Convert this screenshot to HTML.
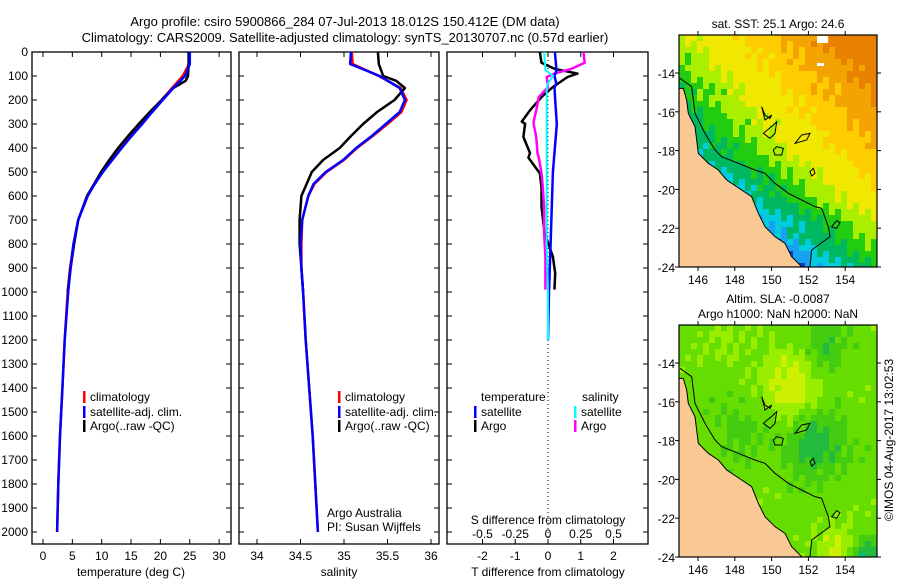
<!DOCTYPE html>
<html><head><meta charset="utf-8"><style>
html,body{margin:0;padding:0;background:#fff;}
svg{display:block;font-family:"Liberation Sans",sans-serif;}
text{font-size:12px;fill:#000;}
</style></head><body>
<svg id="c" width="900" height="580" xmlns="http://www.w3.org/2000/svg">
<text x="345" y="26" text-anchor="middle" style="font-size:13px">Argo profile: csiro 5900866_284 07-Jul-2013 18.012S 150.412E (DM data)</text>
<text x="345" y="42" text-anchor="middle" style="font-size:13px">Climatology: CARS2009. Satellite-adjusted climatology: synTS_20130707.nc (0.57d earlier)</text>
<g id="maps"></g>
<g id="panels"></g>
</svg>
<script>
// ---- data ----
const depths = [0,50,100,150,200,250,300,350,400,450,500,550,600,700,800,900,1000,1200,1400,1600,1800,2000];
const tempSat = [25.0,25.0,24.2,22.2,20.4,18.6,16.9,15.1,13.4,11.8,10.2,8.8,7.6,6.0,5.2,4.7,4.3,3.7,3.3,2.9,2.6,2.4];
const tempClim = [24.9,24.9,23.8,22.0,20.2,18.5,16.8,15.0,13.3,11.7,10.1,8.8,7.6,6.0,5.2,4.6,4.2,3.7,3.3,2.9,2.6,2.4];
const argoDepths = [0,50,100,120,150,200,250,300,350,400,450,500,550,600,700,800,900,1000];
const tempArgo = [24.8,24.8,24.7,24.3,22.2,20.2,18.2,16.3,14.5,12.8,11.3,9.9,8.7,7.5,6.0,5.3,4.7,4.2];
const salSat = [35.08,35.07,35.41,35.64,35.70,35.64,35.48,35.32,35.14,34.99,34.79,34.65,34.59,34.52,34.50,34.51,34.53,34.56,34.60,34.64,34.67,34.70];
const salClim = [35.09,35.10,35.40,35.65,35.72,35.66,35.50,35.33,35.15,35.00,34.80,34.66,34.59,34.52,34.51,34.51,34.53,34.56,34.60,34.64,34.67,34.70];
const salArgo = [35.39,35.40,35.45,35.60,35.70,35.58,35.38,35.22,35.08,34.95,34.76,34.63,34.57,34.51,34.49,34.49,34.51,34.53];
const diffDepths = [0,45,70,90,104,146,188,243,290,299,354,421,440,505,563,645,701,755,853,922,990];
const tDiffArgo = [-0.25,-0.2,0.2,0.9,0.6,0.15,-0.2,-0.55,-0.8,-0.7,-0.75,-0.55,-0.6,-0.25,-0.2,-0.2,-0.15,-0.1,0.15,0.22,0.2];
const sDiffArgo = [0.27,0.28,0.18,0.05,-0.01,0.0,-0.07,-0.09,-0.11,-0.11,-0.09,-0.08,-0.07,-0.05,-0.04,-0.03,-0.03,-0.03,-0.02,-0.02,-0.02];
const satDiffDepths = [0,76,100,130,150,200,300,500,800,1000,1200];
const tDiffSat = [0.21,0.26,0.2,0.25,0.2,0.22,0.27,0.15,0.08,0.03,0.0];
const sDiffSat = [-0.03,-0.02,0.04,0.0,-0.01,-0.01,-0.01,-0.01,-0.01,0.0,0.0];
const depthTicks = [0,100,200,300,400,500,600,700,800,900,1000,1100,1200,1300,1400,1500,1600,1700,1800,1900,2000];
const tempTicks = [0,5,10,15,20,25,30];
const salTicks = [34,34.5,35,35.5,36];
const tDiffTicks = [-2,-1,0,1,2];
const sDiffTicks = [-0.5,-0.25,0,0.25,0.5];
const lonTicks = [146,148,150,152,154];
const latTicks = [-14,-16,-18,-20,-22,-24];

const NS="http://www.w3.org/2000/svg";
const P=document.getElementById('panels');
function el(tag,attrs,parent,txt){const e=document.createElementNS(NS,tag);for(const k in attrs)e.setAttribute(k,attrs[k]);if(txt!==undefined)e.textContent=txt;(parent||P).appendChild(e);return e;}
const Y0=52,Y1=544;
const yD=d=>52+d*0.24;
const xT=v=>43+v*5.87;
const xS=v=>257+(v-34)*87;
const xTD=v=>548+v*32.75;
const xSD=v=>548+v*131;

function frame(x0,x1,name){
  const r=el('rect',{x:x0,y:Y0,width:x1-x0,height:Y1-Y0,fill:'none',stroke:'#000','stroke-width':1.3});
  
  
  depthTicks.forEach(d=>{const y=yD(d);
    el('line',{x1:x0,x2:x0+5,y1:y,y2:y,stroke:'#000'});
    el('line',{x1:x1-5,x2:x1,y1:y,y2:y,stroke:'#000'});});
}
function line(xs,ds,xf,color,w,name){
  const pts=ds.map((d,i)=>xf(xs[i]).toFixed(1)+','+yD(d).toFixed(1)).join(' ');
  const p=el('polyline',{points:pts,fill:'none',stroke:color,'stroke-width':w,'stroke-linejoin':'round'});
  
  
}
function xticks(ticks,f,x0,x1,name,labelY){
  ticks.forEach(v=>{const x=f(v);
    el('line',{x1:x,x2:x,y1:Y0,y2:Y0+5,stroke:'#000'});
    el('line',{x1:x,x2:x,y1:Y1-5,y2:Y1,stroke:'#000'});
    const t=el('text',{x:x,y:labelY,'text-anchor':'middle'},P,String(v));
    
    });
}
function legendRow(x,y,color,label,name){
  el('rect',{x:x,y:y-6,width:2.5,height:12,fill:color});
  const t=el('text',{x:x+7,y:y+4},P,label);
  
  
}

// panel 1
frame(32,231,'temperature-panel');
depthTicks.forEach(d=>{const t=el('text',{x:28,y:yD(d)+4,'text-anchor':'end'},P,String(d));
  
  });
xticks(tempTicks,xT,32,231,'temperature-tick-label',560);
line(tempClim,depths,xT,'#f00',2.5,'temperature-climatology-line');
line(tempArgo,argoDepths,xT,'#000',2.5,'temperature-argo-line');
line(tempSat,depths,xT,'#00f',2.5,'temperature-satellite-line');
legendRow(83,397,'#f00','climatology','legend-climatology');
legendRow(83,412,'#00f','satellite-adj. clim.','legend-satellite-adj');
legendRow(83,426,'#000','Argo(..raw -QC)','legend-argo');
el('text',{x:131,y:576,'text-anchor':'middle',},P,'temperature (deg C)');

// panel 2
frame(239,439,'salinity-panel');
xticks(salTicks,xS,239,439,'salinity-tick-label',560);
line(salClim,depths,xS,'#f00',2.5,'salinity-climatology-line');
line(salArgo,argoDepths,xS,'#000',2.5,'salinity-argo-line');
line(salSat,depths,xS,'#00f',2.5,'salinity-satellite-line');
legendRow(338,397,'#f00','climatology','legend-climatology-2');
legendRow(338,412,'#00f','satellite-adj. clim.','legend-satellite-adj-2');
legendRow(338,426,'#000','Argo(..raw -QC)','legend-argo-2');
el('text',{x:327,y:517,},P,'Argo Australia');
el('text',{x:327,y:531,},P,'PI: Susan Wijffels');
el('text',{x:339,y:576,'text-anchor':'middle',},P,'salinity');

// panel 3
frame(447,648,'difference-panel');
el('line',{x1:548,x2:548,y1:Y0,y2:Y1,stroke:'#000','stroke-dasharray':'1,3',});
tDiffTicks.forEach(v=>{const x=xTD(v);
  el('line',{x1:x,x2:x,y1:Y0,y2:Y0+5,stroke:'#000'});
  el('line',{x1:x,x2:x,y1:Y1-5,y2:Y1,stroke:'#000'});
  el('text',{x:x,y:560,'text-anchor':'middle',},P,String(v));});
sDiffTicks.forEach(v=>{
  el('text',{x:xSD(v),y:538,'text-anchor':'middle',},P,String(v));});
line(tDiffArgo,diffDepths,xTD,'#000',2.5,'t-diff-argo-line');
line(sDiffArgo,diffDepths,xSD,'#f0f',2.5,'s-diff-argo-line');
line(tDiffSat,satDiffDepths,xTD,'#00f',2.5,'t-diff-satellite-line');
line(sDiffSat,satDiffDepths,xSD,'#0ff',2,'s-diff-satellite-line');
el('text',{x:481,y:401,},P,'temperature');
el('text',{x:582,y:401,},P,'salinity');
legendRow(474,412,'#00f','satellite','legend-t-satellite');
legendRow(474,426,'#000','Argo','legend-t-argo');
legendRow(574,412,'#0ff','satellite','legend-s-satellite');
legendRow(574,426,'#f0f','Argo','legend-s-argo');
el('text',{x:548,y:524,'text-anchor':'middle',},P,'S difference from climatology');
el('text',{x:548,y:576,'text-anchor':'middle',},P,'T difference from climatology');

// ---- maps ----
const M=document.getElementById('maps');
const lonX=l=>698+(l-146)*18.4;
const latY=(la,top)=>top+38+(-14-la)*19.4;
const coast=[[73,265],[85,265],[95,300],[100,340],[120,380],[125,420],[130,460],[160,490],[190,510],[215,540],[260,570],[290,590],[310,640],[330,680],[360,710],[390,730],[410,770],[440,800]];
const shelf=[[75,235],[110,260],[120,340],[150,400],[180,450],[200,470],[250,490],[300,510],[330,520],[360,550],[400,580],[440,600],[480,620],[500,625],[520,680],[525,710],[470,750],[465,800]];
const reefs=[[[320,320],[330,360],[350,345],[345,355],[330,345]],[[325,400],[355,375],[365,365],[360,400],[345,415]],[[355,450],[365,440],[385,445],[380,465],[360,465]],[[420,430],[440,405],[465,400],[455,420]],[[465,515],[475,505],[480,520],[470,528]],[[530,680],[545,662],[555,668],[545,685]]];
function conv(p,off){return [655+p[0]/3,off+p[1]/3];}
function sstColor(u,v,n){
  const f=1.0*u-1.0*v+0.55-0.45*Math.max(0,v-0.5)+n;
  if(f<-0.05) return '#0a40d0';
  if(f<0.05) return '#1aa0f0';
  if(f<0.15) return '#00ccdd';
  if(f<0.3) return '#00b860';
  if(f<0.45) return '#22cc10';
  if(f<0.6) return '#aaee00';
  if(f<0.85) return '#f0e800';
  if(f<1.05) return '#ffcc00';
  if(f<1.25) return '#f4a400';
  return '#e88000';
}
function slaColor(u,v,n){
  const b=(cx,cy,r)=>Math.exp(-((u-cx)**2+(v-cy)**2)/(r*r));
  const f=0.55+0.35*b(0.55,0.25,0.15)+0.3*b(0.79,0.95,0.1)+0.12*b(0.22,0.05,0.12)-0.35*b(0.68,0.5,0.15)-0.45*b(0.93,0.98,0.08)-0.25*b(0.72,0.08,0.12)-0.15*b(0.3,0.45,0.15)+n;
  if(f<0.15) return '#00c080';
  if(f<0.3) return '#22bb40';
  if(f<0.45) return '#44cc10';
  if(f<0.62) return '#66dd00';
  if(f<0.78) return '#99ee00';
  return '#ccf000';
}
function drawMap(top,off,colorFn,name,titles){
  const g=document.createElementNS(NS,'g');
  
  
  M.appendChild(g);
  const x0=679,x1=877,y0=top,y1=top+232,cs=6;
  for(let y=y0;y<y1;y+=cs)for(let x=x0;x<x1;x+=cs){
    const u=(x-x0)/(x1-x0),v=(y-y0)/(y1-y0);
    const n=0.05*Math.sin(x*1.7+y*0.9)+0.04*Math.cos(x*0.6-y*1.3);
    el('rect',{x:x,y:y,width:Math.min(cs,x1-x),height:Math.min(cs,y1-y),fill:colorFn(u,v,n)},g);
  }
  const cpts=coast.map(p=>conv(p,off));
  const land=[[x0,cpts[0][1]],...cpts,[cpts[cpts.length-1][0],y1],[x0,y1]];
  el('polygon',{points:land.map(p=>p.join(',')).join(' '),fill:'#f9c995',stroke:'none'},g);
  el('polyline',{points:cpts.map(p=>p.join(',')).join(' '),fill:'none',stroke:'#000','stroke-width':1},g);
  el('polyline',{points:shelf.map(p=>conv(p,off).join(',')).join(' '),fill:'none',stroke:'#000','stroke-width':1},g);
  reefs.forEach(r=>el('polygon',{points:r.map(p=>conv(p,off).join(',')).join(' '),fill:'none',stroke:'#000','stroke-width':1},g));
  el('rect',{x:x0,y:y0,width:x1-x0,height:y1-y0,fill:'none',stroke:'#000','stroke-width':1.2},g);
  lonTicks.forEach(l=>{const x=lonX(l);
    el('line',{x1:x,x2:x,y1:y0-4,y2:y0,stroke:'#000'},g);
    el('line',{x1:x,x2:x,y1:y1,y2:y1+4,stroke:'#000'},g);
    const t=el('text',{x:x,y:y1+17,'text-anchor':'middle'},g,String(l));
    
    });
  latTicks.forEach(la=>{const y=latY(la,top);
    el('line',{x1:x0-4,x2:x0,y1:y,y2:y,stroke:'#000'},g);
    el('line',{x1:x1,x2:x1+4,y1:y,y2:y,stroke:'#000'},g);
    const t=el('text',{x:675,y:y+5,'text-anchor':'end'},g,String(la));
    
    });
  titles.forEach((s,i)=>{const t=el('text',{x:778,y:top-7-(titles.length-1-i)*15,'text-anchor':'middle'},g,s);
    
    });
}
drawMap(35,0,sstColor,'sst-map',['sat. SST: 25.1  Argo: 24.6']);
el('rect',{x:817,y:36,width:11,height:7,fill:'#fff'},M);
el('rect',{x:817,y:63,width:7,height:3,fill:'#fff'},M);
drawMap(325,290,slaColor,'sla-map',['Altim. SLA: -0.0087','Argo h1000: NaN h2000: NaN']);
const st=el('text',{x:0,y:0,transform:'translate(893,440) rotate(-90)','text-anchor':'middle'},M,'©IMOS 04-Aug-2017 13:02:53');


</script>
</body></html>
